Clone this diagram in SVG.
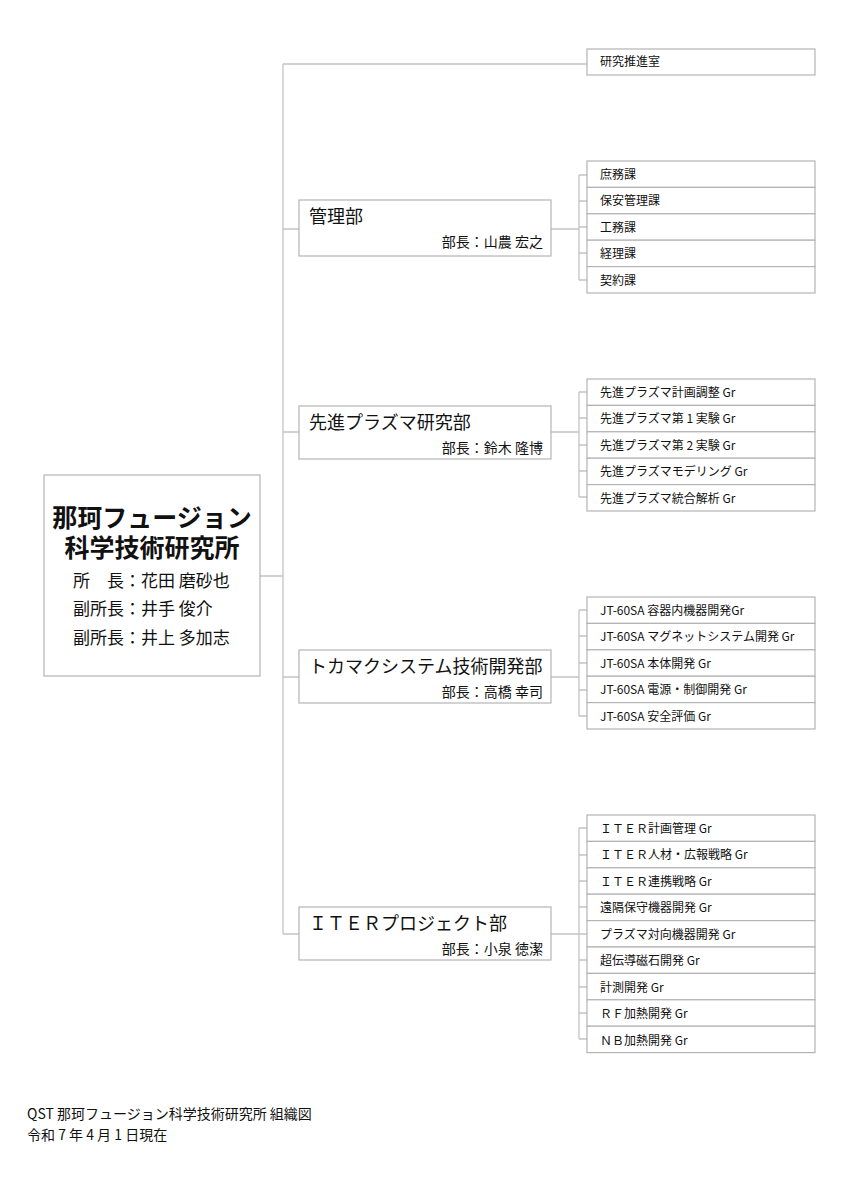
<svg xmlns="http://www.w3.org/2000/svg" width="842" height="1191" viewBox="0 0 842 1191">
<style>
.bx{fill:#fff;stroke:#b4b4b4;stroke-width:1.2}
.ln{fill:none;stroke:#c4c4c4;stroke-width:1.3}
text{font-family:"Noto Sans CJK JP","Noto Sans",sans-serif;fill:#111}
.t{font-size:12px}
.d{font-size:18px}
.h{font-size:14px;text-anchor:end}
.m{font-size:25px;font-weight:bold;text-anchor:middle}
.s{font-size:17px}
.f{font-size:14px}
</style>
<rect width="842" height="1191" fill="#fff"/>
<g id="connectors">
<path class="ln" d="M283,64V934M283,64H587M283,229H299M283,432H299M283,677H299M283,934H299M260,576H283"/>
<path class="ln" d="M551,229H579M579,175V280M579,175H587M579,201H587M579,227H587M579,253H587M579,280H587"/>
<path class="ln" d="M551,432H579M579,392V497M579,392H587M579,418H587M579,445H587M579,471H587M579,497H587"/>
<path class="ln" d="M551,677H579M579,610V716M579,610H587M579,636H587M579,663H587M579,690H587M579,716H587"/>
<path class="ln" d="M551,934H579M579,828V1039M579,828H587M579,855H587M579,881H587M579,907H587M579,934H587M579,960H587M579,987H587M579,1013H587M579,1039H587"/>
</g>
<g id="main">
<rect class="bx" x="44" y="475" width="216" height="201"/>
<text class="m" x="152" y="527">那珂フュージョン<tspan x="152" dy="30">科学技術研究所</tspan></text>
<text class="s" x="73" y="587">所　長：花田 磨砂也</text>
<text class="s" x="73" y="615">副所長：井手 俊介</text>
<text class="s" x="73" y="644">副所長：井上 多加志</text>
</g>
<g id="kenkyu">
<rect class="bx" x="587" y="49" width="228" height="26"/>
<text class="t" x="600" y="66">研究推進室</text>
</g>
<g id="kanri">
<rect class="bx" x="299" y="200" width="252" height="56"/>
<text class="d" x="309" y="223">管理部</text>
<text class="h" x="543" y="247">部長：山農 宏之</text>
</g>
<g id="kanri-sub">
<rect class="bx" x="587" y="161" width="228" height="26.4"/>
<rect class="bx" x="587" y="187.4" width="228" height="26.4"/>
<rect class="bx" x="587" y="213.8" width="228" height="26.4"/>
<rect class="bx" x="587" y="240.2" width="228" height="26.4"/>
<rect class="bx" x="587" y="266.6" width="228" height="26.4"/>
<text class="t" x="600" y="178.5">庶務課</text>
<text class="t" x="600" y="205">保安管理課</text>
<text class="t" x="600" y="231.5">工務課</text>
<text class="t" x="600" y="258">経理課</text>
<text class="t" x="600" y="284.5">契約課</text>
</g>
<g id="plasma">
<rect class="bx" x="299" y="406" width="252" height="53"/>
<text class="d" x="309" y="429">先進プラズマ研究部</text>
<text class="h" x="543" y="453">部長：鈴木 隆博</text>
</g>
<g id="plasma-sub">
<rect class="bx" x="587" y="379" width="228" height="26.4"/>
<rect class="bx" x="587" y="405.4" width="228" height="26.4"/>
<rect class="bx" x="587" y="431.8" width="228" height="26.4"/>
<rect class="bx" x="587" y="458.2" width="228" height="26.4"/>
<rect class="bx" x="587" y="484.6" width="228" height="26.4"/>
<text class="t" x="600" y="396.5">先進プラズマ計画調整 Gr</text>
<text class="t" x="600" y="423">先進プラズマ第 1 実験 Gr</text>
<text class="t" x="600" y="449.5">先進プラズマ第 2 実験 Gr</text>
<text class="t" x="600" y="476">先進プラズマモデリング Gr</text>
<text class="t" x="600" y="502.5">先進プラズマ統合解析 Gr</text>
</g>
<g id="tokamak">
<rect class="bx" x="299" y="650" width="252" height="53"/>
<text class="d" x="309" y="673">トカマクシステム技術開発部</text>
<text class="h" x="543" y="697">部長：高橋 幸司</text>
</g>
<g id="tokamak-sub">
<rect class="bx" x="587" y="597" width="228" height="26.4"/>
<rect class="bx" x="587" y="623.4" width="228" height="26.4"/>
<rect class="bx" x="587" y="649.8" width="228" height="26.4"/>
<rect class="bx" x="587" y="676.2" width="228" height="26.4"/>
<rect class="bx" x="587" y="702.6" width="228" height="26.4"/>
<text class="t" x="600" y="614.5">JT-60SA 容器内機器開発Gr</text>
<text class="t" x="600" y="641">JT-60SA マグネットシステム開発 Gr</text>
<text class="t" x="600" y="667.5">JT-60SA 本体開発 Gr</text>
<text class="t" x="600" y="694">JT-60SA 電源・制御開発 Gr</text>
<text class="t" x="600" y="720.5">JT-60SA 安全評価 Gr</text>
</g>
<g id="iter">
<rect class="bx" x="299" y="907" width="252" height="53"/>
<text class="d" x="309" y="930">ＩＴＥＲプロジェクト部</text>
<text class="h" x="543" y="954">部長：小泉 徳潔</text>
</g>
<g id="iter-sub">
<rect class="bx" x="587" y="815" width="228" height="26.4"/>
<rect class="bx" x="587" y="841.4" width="228" height="26.4"/>
<rect class="bx" x="587" y="867.8" width="228" height="26.4"/>
<rect class="bx" x="587" y="894.2" width="228" height="26.4"/>
<rect class="bx" x="587" y="920.6" width="228" height="26.4"/>
<rect class="bx" x="587" y="947" width="228" height="26.4"/>
<rect class="bx" x="587" y="973.4" width="228" height="26.4"/>
<rect class="bx" x="587" y="999.8" width="228" height="26.4"/>
<rect class="bx" x="587" y="1026.2" width="228" height="26.4"/>
<text class="t" x="600" y="832.5">ＩＴＥＲ計画管理 Gr</text>
<text class="t" x="600" y="859">ＩＴＥＲ人材・広報戦略 Gr</text>
<text class="t" x="600" y="885.5">ＩＴＥＲ連携戦略 Gr</text>
<text class="t" x="600" y="912">遠隔保守機器開発 Gr</text>
<text class="t" x="600" y="938.5">プラズマ対向機器開発 Gr</text>
<text class="t" x="600" y="965">超伝導磁石開発 Gr</text>
<text class="t" x="600" y="991.5">計測開発 Gr</text>
<text class="t" x="600" y="1018">ＲＦ加熱開発 Gr</text>
<text class="t" x="600" y="1044.5">ＮＢ加熱開発 Gr</text>
</g>
<g id="footer">
<text class="f" x="27" y="1119">QST 那珂フュージョン科学技術研究所 組織図</text>
<text class="f" x="27" y="1140">令和 7 年 4 月 1 日現在</text>
</g>
</svg>
